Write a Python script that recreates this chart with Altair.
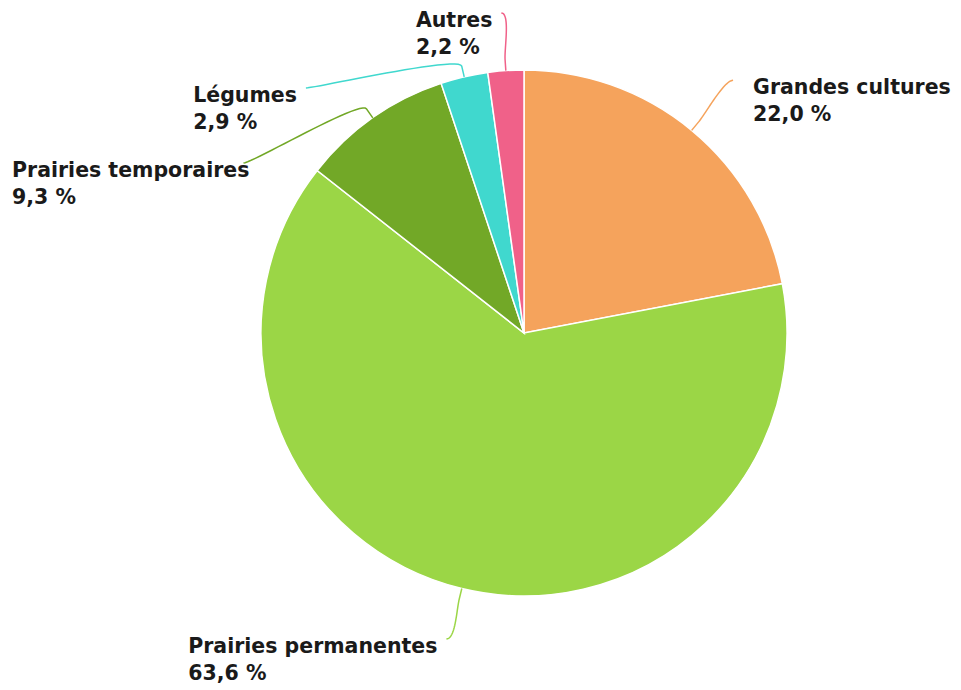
import math
import altair as alt
import pandas as pd

# ---- data ----
categories = ["Grandes cultures", "Prairies permanentes", "Prairies temporaires", "Légumes", "Autres"]
shares = [22.0, 63.6, 9.3, 2.9, 2.2]
colors = ["#f5a35c", "#9bd646", "#72a827", "#40d8ce", "#f06189"]

# ---- layout / style ----
W, H = 945, 682
CX, CY = 516, 325        # pie centre (px)
R = 263                  # pie radius
RL = 328                 # label anchor radius
BREAK = 11               # connector break distance beyond the slice
FONT = 20.5
LH = 27
MIN_GAP = 75
TOP_LIMIT = 5
BOTTOM_LIMIT = 631
TEXT_PAD_RIGHT = 20
TEXT_PAD_LEFT = 9
LEFT_EDGE = 4

# approximate advance widths of DejaVu Sans Bold (em units)
EM = {" ": 0.348, "%": 1.002, ",": 0.380, "A": 0.774, "G": 0.819, "L": 0.637, "P": 0.733,
      "a": 0.675, "c": 0.593, "d": 0.716, "e": 0.678, "é": 0.678, "g": 0.716, "i": 0.343,
      "l": 0.343, "m": 1.042, "n": 0.712, "o": 0.686, "p": 0.716, "r": 0.493, "s": 0.595,
      "t": 0.478, "u": 0.712}
for d in "0123456789":
    EM[d] = 0.696


def text_width(s):
    return sum(EM.get(c, 0.65) for c in s) * FONT


def fmt(v):
    return f"{v:.1f}".replace(".", ",") + " %"


total = sum(shares)
slices = pd.DataFrame({"category": categories, "share": shares, "idx": range(len(categories))})

# mid angles (clockwise from 12 o'clock)
info = []
cum = 0.0
for i, (c, v) in enumerate(zip(categories, shares)):
    mid = (cum + v / 2) / total * 2 * math.pi
    cum += v
    s, co = math.sin(mid), math.cos(mid)
    info.append({
        "category": c, "value": v, "mid": mid, "left": s < 0,
        "nat_y": CY - RL * co,
        "touch": (CX + R * s, CY - R * co),
        "brk": (CX + (R + BREAK) * s, CY - (R + BREAK) * co),
        "far": (CX + (R + 2 * BREAK) * s, CY - (R + 2 * BREAK) * co),
    })

# distribute labels on each side
for side in (True, False):
    items = sorted([d for d in info if d["left"] == side], key=lambda d: d["nat_y"])
    prev = None
    for d in items:
        d["edge"] = False
        y = d["nat_y"]
        if y < TOP_LIMIT:
            y = TOP_LIMIT
            d["edge"] = True
        if prev is not None and y < prev + MIN_GAP:
            y = prev + MIN_GAP
            d["edge"] = False
        d["y"] = y
        prev = y
    nxt = None
    for d in reversed(items):
        if nxt is None:
            if d["y"] > BOTTOM_LIMIT:
                d["y"] = BOTTOM_LIMIT
                d["edge"] = True
        elif d["y"] > nxt - MIN_GAP:
            d["y"] = nxt - MIN_GAP
            d["edge"] = False
        nxt = d["y"]
    for d in items:
        yy = d["nat_y"] if d["edge"] else d["y"]
        dx = math.sqrt(max(RL ** 2 - (yy - CY) ** 2, 0))
        d["x"] = CX - dx if side else CX + dx

# connectors (cubic curve from label anchor to break point, then line to slice)
rows = []
texts = []
for d in info:
    ax, ay = d["x"], d["y"]
    c1 = (ax + (9 if d["left"] else -9), ay)
    c2 = d["far"]
    p3 = d["brk"]
    k = 0
    n = 24
    for j in range(n + 1):
        t = j / n
        u = 1 - t
        px = u ** 3 * ax + 3 * u * u * t * c1[0] + 3 * u * t * t * c2[0] + t ** 3 * p3[0]
        py = u ** 3 * ay + 3 * u * u * t * c1[1] + 3 * u * t * t * c2[1] + t ** 3 * p3[1]
        rows.append({"category": d["category"], "k": k, "px": px, "py": py})
        k += 1
    rows.append({"category": d["category"], "k": k, "px": d["touch"][0], "py": d["touch"][1]})

    name, val = d["category"], fmt(d["value"])
    if d["left"]:
        wdt = max(text_width(name), text_width(val))
        tx = max(ax - TEXT_PAD_LEFT - wdt, LEFT_EDGE)
    else:
        tx = ax + TEXT_PAD_RIGHT
    texts.append({"category": name, "label": name + "\n" + val, "tx": tx, "ty": ay + 14})

conn = pd.DataFrame(rows)
labels = pd.DataFrame(texts)

xs = alt.Scale(domain=[0, W], nice=False, zero=False)
ys = alt.Scale(domain=[0, H], reverse=True, nice=False, zero=False)
cscale = alt.Scale(domain=categories, range=colors)

arcs = alt.Chart(slices).mark_arc(
    outerRadius=R, x=CX, y=CY, stroke="white", strokeWidth=1.5
).encode(
    theta=alt.Theta("share:Q", stack=True),
    color=alt.Color("category:N", scale=cscale, legend=None),
    order=alt.Order("idx:Q"),
)

lines = alt.Chart(conn).mark_line(strokeWidth=1.5).encode(
    x=alt.X("px:Q", scale=xs, axis=None),
    y=alt.Y("py:Q", scale=ys, axis=None),
    detail="category:N",
    order="k:Q",
    color=alt.Color("category:N", scale=cscale, legend=None),
)

text = alt.Chart(labels).mark_text(
    align="left", baseline="alphabetic", lineBreak="\n", lineHeight=LH,
    font="DejaVu Sans", fontWeight="bold", fontSize=FONT, color="#1a1a1a"
).encode(
    x=alt.X("tx:Q", scale=xs, axis=None),
    y=alt.Y("ty:Q", scale=ys, axis=None),
    text="label:N",
)

chart = alt.layer(arcs, lines, text).properties(
    width=W, height=H, autosize=alt.AutoSizeParams(type="none"), padding=0
).configure_view(stroke=None)

chart.save("out.html", embed_options={"renderer": "svg", "actions": False})
